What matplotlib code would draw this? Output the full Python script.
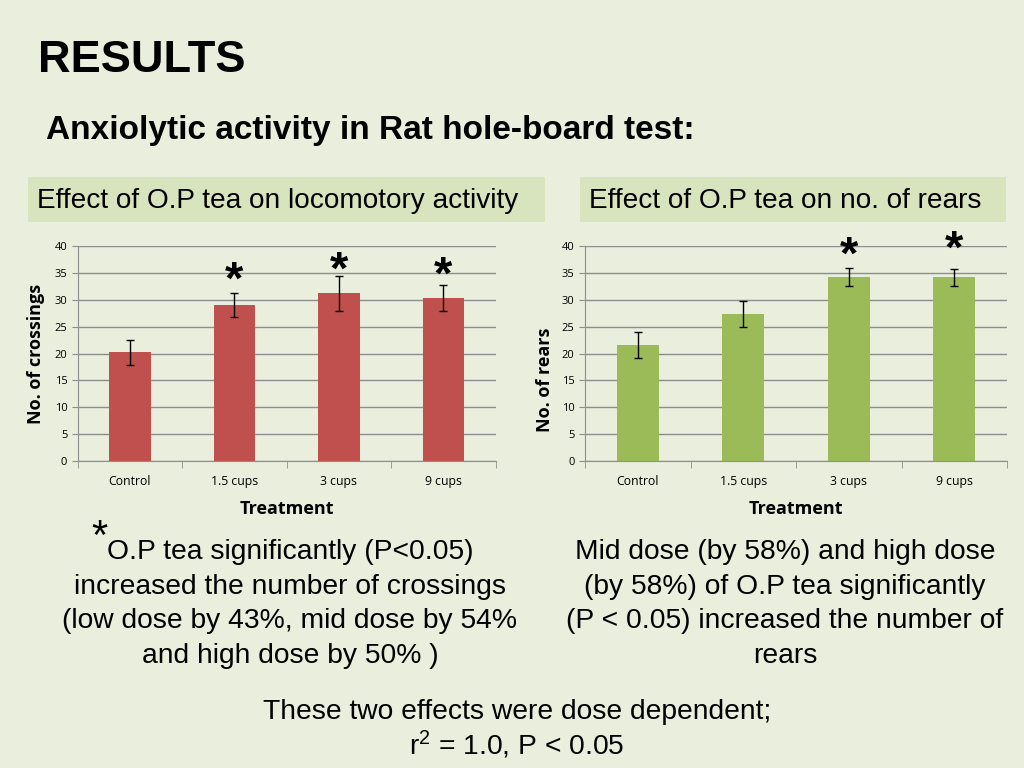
import matplotlib.pyplot as plt
from matplotlib.patches import Rectangle
import numpy as np

# Data
treatments = ['Control', '1.5 cups', '3 cups', '9 cups']
crossings = [20.2, 29.0, 31.2, 30.4]
crossings_err = [2.4, 2.3, 3.3, 2.4]
crossings_sig = [False, True, True, True]
crossings_star_y = [None, 33.3, 35.2, 34.2]

rears = [21.6, 27.4, 34.2, 34.2]
rears_err = [2.45, 2.4, 1.65, 1.55]
rears_sig = [False, False, True, True]
rears_star_y = [None, None, 38.0, 39.2]

left_note = ['O.P tea significantly (P<0.05)',
             'increased the number of crossings',
             '(low dose by 43%, mid dose by 54%',
             'and high dose by 50% )']
right_note = ['Mid dose (by 58%) and high dose',
              '(by 58%) of O.P tea significantly',
              '(P < 0.05) increased the number of',
              'rears']

bg = '#EAEEDD'
box_col = '#D8E4BE'
text_font = ['Liberation Sans', 'DejaVu Sans']
chart_font = ['Open Sans', 'DejaVu Sans']

fig = plt.figure(figsize=(10.24, 7.68), dpi=100, facecolor=bg)


def px(x, y):
    return x / 1024, 1 - y / 768


# Headings
fig.text(*px(38, 60), 'RESULTS', fontsize=32.5, fontweight='bold',
         family=text_font, va='center', ha='left')
fig.text(*px(46, 130), 'Anxiolytic activity in Rat hole-board test:', fontsize=24,
         fontweight='bold', family=text_font, va='center', ha='left')

# Panel header boxes
for x0, x1, label in [(28, 545, 'Effect of O.P tea on locomotory activity'),
                      (580, 1006, 'Effect of O.P tea on no. of rears')]:
    fig.patches.append(Rectangle(px(x0, 222), (x1 - x0) / 1024, 45 / 768,
                                 transform=fig.transFigure, facecolor=box_col,
                                 edgecolor='none', zorder=0))
    fig.text(*px(x0 + 9, 201), label, fontsize=20.2, family=text_font,
             va='center', ha='left')


def draw_panel(rect, values, errs, sig, star_y, color, ylabel, ylabel_pos):
    ax = fig.add_axes(rect)
    ax.set_facecolor('none')
    x = np.arange(len(treatments))
    ax.bar(x, values, width=0.4, color=color, zorder=3)
    ax.errorbar(x, values, yerr=errs, fmt='none', ecolor='black',
                elinewidth=1, capsize=3, capthick=1, zorder=4)
    for xi, s, sy in zip(x, sig, star_y):
        if s:
            ax.text(xi, sy, '*', fontsize=34, ha='center', va='center',
                    family=text_font, fontweight='bold', clip_on=False)
    ax.set_xlim(-0.5, len(treatments) - 0.5)
    ax.set_ylim(0, 40)
    ax.set_yticks(range(0, 41, 5))
    ax.yaxis.grid(True, color='#8E8E8E', linewidth=1)
    ax.set_axisbelow(True)
    ax.set_xticks(x)
    ax.set_xticklabels(treatments, fontsize=8.8, family=chart_font)
    ax.tick_params(axis='x', length=0, pad=10)
    ax.set_xticks(np.arange(-0.5, len(treatments)), minor=True)
    ax.tick_params(axis='x', which='minor', length=5, color='#8E8E8E')
    ax.tick_params(axis='y', length=4, color='#8E8E8E', labelsize=8)
    for lab in ax.get_yticklabels():
        lab.set_family(chart_font)
    for side in ['top', 'right']:
        ax.spines[side].set_visible(False)
    for side in ['left', 'bottom']:
        ax.spines[side].set_color('#8E8E8E')
    ax.set_xlabel('Treatment', fontsize=13, fontweight='bold', family=chart_font,
                  labelpad=9)
    ax.set_ylabel(ylabel, fontsize=13, fontweight='bold', family=chart_font)
    ax.yaxis.set_label_coords(ylabel_pos[0], ylabel_pos[1])
    return ax


draw_panel([77.7 / 1024, 1 - 461 / 768, 418 / 1024, 215 / 768],
           crossings, crossings_err, crossings_sig, crossings_star_y,
           '#C0504D', 'No. of crossings', (-0.078, 0.5))
draw_panel([585 / 1024, 1 - 461 / 768, 422 / 1024, 215 / 768],
           rears, rears_err, rears_sig, rears_star_y,
           '#9BBB59', 'No. of rears', (-0.074, 0.377))

# Footnotes, one text per line
line_y = [552, 587, 621, 656]
for yy, line in zip(line_y, left_note):
    fig.text(*px(290, yy), line, fontsize=20.3, family=text_font,
             ha='center', va='center')
for yy, line in zip(line_y, right_note):
    fig.text(*px(785, yy), line, fontsize=20.3, family=text_font,
             ha='center', va='center')
fig.text(*px(99, 538), '*', fontsize=30, family=text_font, ha='center', va='center')

fig.text(*px(517, 712), 'These two effects were dose dependent;',
         fontsize=20.3, family=text_font, ha='center', va='center')
fig.text(*px(517, 745), '$\\mathregular{r^2}$ = 1.0, P < 0.05',
         fontsize=20.3, family=text_font, ha='center', va='center')

fig.savefig('out.png', dpi=100, facecolor=bg)
